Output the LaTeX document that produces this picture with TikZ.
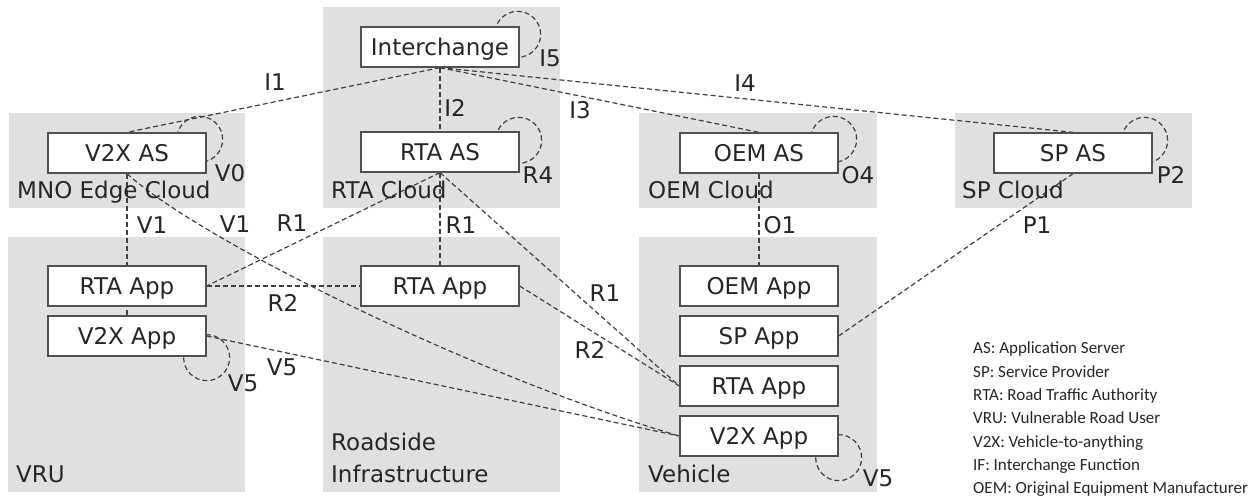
\documentclass[tikz,border=0pt]{standalone}
\usepackage{fontspec}
\setmainfont{DejaVu Sans}
\newfontfamily\legendfont{Carlito}
\usetikzlibrary{calc}
\pgfdeclarelayer{bg}
\pgfdeclarelayer{lines}
\pgfsetlayers{bg,lines,main}
\definecolor{regiongray}{HTML}{E0E0E0}
\definecolor{linegray}{HTML}{404040}
\definecolor{boxborder}{HTML}{505050}
\definecolor{txt}{HTML}{262626}
\begin{document}
\begin{tikzpicture}[x=1pt,y=-1pt,
  region/.style={fill=regiongray,draw=none},
  appbox/.style={draw=boxborder,line width=1.3pt,fill=white,minimum width=158pt,minimum height=40pt,inner sep=0pt,text height=17pt,text depth=0pt,font=\fontsize{23}{27}\selectfont,text=txt},
  conn/.style={draw=linegray,line width=1.2pt,dash pattern=on 5pt off 3pt},
  lbl/.style={font=\fontsize{23}{27}\selectfont,text=txt,inner sep=0pt},
  regionlbl/.style={font=\fontsize{23}{27}\selectfont,text=txt,inner sep=0pt,anchor=base west},
  legendtxt/.style={font=\legendfont\fontsize{17}{20}\selectfont,text=txt,inner sep=0pt,anchor=base west}]

\useasboundingbox (0,0) rectangle (1258,497);

% regions
\begin{pgfonlayer}{bg}
\fill[region] (9,113) rectangle (245,208);
\fill[region] (323,7) rectangle (560,208);
\fill[region] (639,113) rectangle (877,208);
\fill[region] (955,113) rectangle (1192,208);
\fill[region] (8,237) rectangle (245,492);
\fill[region] (323,237) rectangle (560,492);
\fill[region] (639,237) rectangle (877,492);
\end{pgfonlayer}

% region labels
\node[regionlbl] (lmno) at (17,199) {MNO Edge Cloud};
\node[regionlbl] (lrtac) at (331,199) {RTA Cloud};
\node[regionlbl] (loemc) at (648,199) {OEM Cloud};
\node[regionlbl] (lspc) at (962,199) {SP Cloud};
\node[regionlbl] (lvru) at (16,482) {VRU};
\node[regionlbl] (lrs1) at (331,450) {Roadside};
\node[regionlbl] (lrs2) at (331,482) {Infrastructure};
\node[regionlbl] (lveh) at (648,482) {Vehicle};

% boxes
\node[appbox] (ic) at (440,47) {Interchange};
\node[appbox] (v2xas) at (127,153) {V2X AS};
\node[appbox] (rtaas) at (440,152) {RTA AS};
\node[appbox] (oemas) at (759,153) {OEM AS};
\node[appbox] (spas) at (1073,153) {SP AS};
\node[appbox] (vrurta) at (127,286) {RTA App};
\node[appbox] (vruv2x) at (127,336) {V2X App};
\node[appbox] (rsrta) at (440,286) {RTA App};
\node[appbox] (voem) at (759,286) {OEM App};
\node[appbox] (vsp) at (759,336) {SP App};
\node[appbox] (vrta) at (759,386) {RTA App};
\node[appbox] (vv2x) at (759,436) {V2X App};

% connectors
\begin{pgfonlayer}{lines}
\draw[conn] (ic.south) -- (v2xas.north);
\draw[conn] (ic.south) -- (rtaas.north);
\draw[conn] (ic.south) -- (oemas.north);
\draw[conn] (ic.south) -- (spas.north);
\draw[conn] (v2xas.south) -- (vruv2x.north);
\draw[conn] (v2xas.south) .. controls (200,240) and (475,376) .. (vv2x.west);
\draw[conn] (rtaas.south) -- (vrurta.east);
\draw[conn] (rtaas.south) -- (rsrta.north);
\draw[conn] (rtaas.south) -- (vrta.west);
\draw[conn] (vrurta.east) -- (rsrta.west);
\draw[conn] (rsrta.east) -- (vrta.west);
\draw[conn] (vruv2x.east) -- (vv2x.west);
\draw[conn] (oemas.south) -- (voem.north);
\draw[conn] (spas.south) -- (vsp.east);
% loops
\draw[conn] ($(ic.north east)+(-2,8)$) circle[radius=23pt];
\draw[conn] ($(v2xas.north east)+(-7,7)$) circle[radius=23pt];
\draw[conn] ($(rtaas.north east)+(-1,9)$) circle[radius=23pt];
\draw[conn] ($(oemas.north east)+(-5,7)$) circle[radius=23pt];
\draw[conn] ($(spas.north east)+(-8,8)$) circle[radius=23pt];
\draw[conn] ($(vruv2x.south east)+(0,1)$) circle[radius=23pt];
\draw[conn] ($(vv2x.south east)+(0,1)$) circle[radius=23pt];
\end{pgfonlayer}

% connector labels
\node[lbl] (li1) at (275,82) {I1};
\node[lbl] (li2) at (455,108) {I2};
\node[lbl] (li3) at (580,110) {I3};
\node[lbl] (li4) at (745,83) {I4};
\node[lbl] (li5) at (550,58) {I5};
\node[lbl] (lv0) at (230,173) {V0};
\node[lbl] (lr4) at (538,175) {R4};
\node[lbl] (lo4) at (858,175) {O4};
\node[lbl] (lp2) at (1171,175) {P2};
\node[lbl] (lv1a) at (152,225) {V1};
\node[lbl] (lv1b) at (235,224) {V1};
\node[lbl] (lr1a) at (292,223) {R1};
\node[lbl] (lr1b) at (461,225) {R1};
\node[lbl] (lo1) at (780,225) {O1};
\node[lbl] (lp1) at (1037,225) {P1};
\node[lbl] (lr2a) at (283,303) {R2};
\node[lbl] (lr1c) at (605,293) {R1};
\node[lbl] (lr2b) at (590,350) {R2};
\node[lbl] (lv5a) at (282,367) {V5};
\node[lbl] (lv5b) at (243,383) {V5};
\node[lbl] (lv5c) at (878,478) {V5};

% legend
\node[legendtxt] (lg1) at (973,353.5) {AS: Application Server};
\node[legendtxt] (lg2) at (973,377) {SP: Service Provider};
\node[legendtxt] (lg3) at (973,400.5) {RTA: Road Traffic Authority};
\node[legendtxt] (lg4) at (973,423.5) {VRU: Vulnerable Road User};
\node[legendtxt] (lg5) at (973,447) {V2X: Vehicle-to-anything};
\node[legendtxt] (lg6) at (973,470.5) {IF: Interchange Function};
\node[legendtxt] (lg7) at (973,493.5) {OEM: Original Equipment Manufacturer};
\end{tikzpicture}
\end{document}
